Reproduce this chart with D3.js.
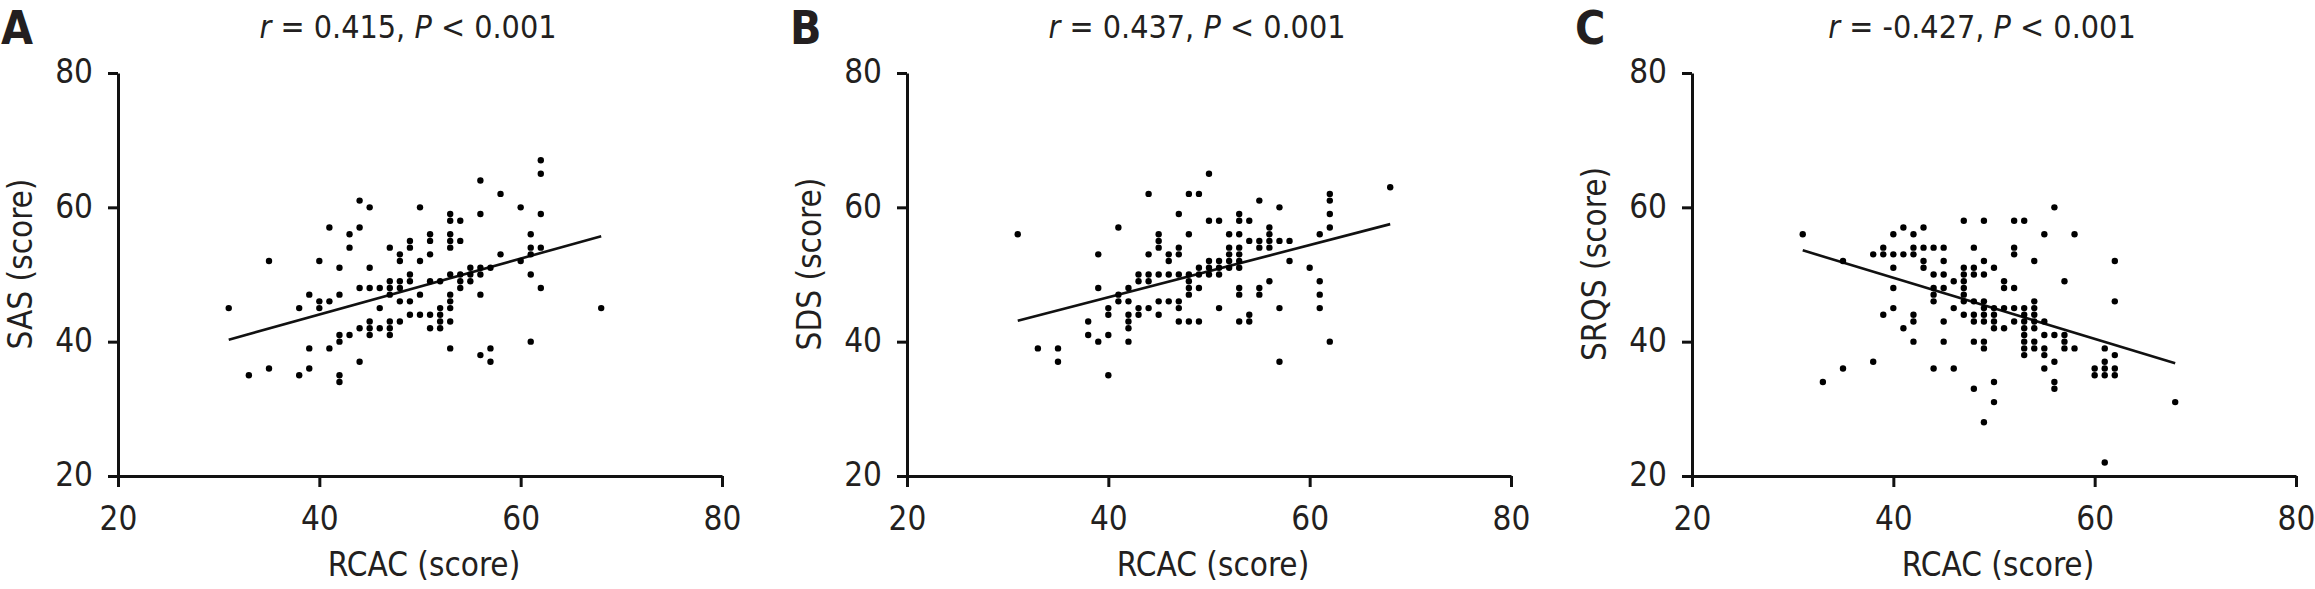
<!DOCTYPE html>
<html lang="en">
<head>
    <meta charset="UTF-8">
    <title>RCAC correlations</title>
    <script type="text/javascript" src="https://cdn.jsdelivr.net/npm/d3@7/dist/d3.min.js"></script>
    <style>
        body { margin: 0; background: #fff; }
        svg text {
            font-family: "DejaVu Sans Condensed", "DejaVu Sans", sans-serif;
            font-stretch: condensed;
            fill: #231f20;
        }
        .axis path,
        .axis line {
            fill: none;
            stroke: #111;
            stroke-width: 3;
        }
    </style>
</head>
<body>
<script type="text/javascript">
    // data: [RCAC score, outcome score]
    let pointsA = [
        [31,45],[33,35],[35,52],[35,36],[38,45],[38,35],[39,47],[39,39],[39,36],
        [40,52],[40,46],[40,45],[41,57],[41,46],[41,39],
        [42,51],[42,47],[42,41],[42,40],[42,35],[42,34],[43,56],[43,54],[43,41],
        [44,61],[44,57],[44,48],[44,42],[44,37],[45,60],[45,51],[45,48],[45,43],[45,42],[45,41],
        [46,48],[46,45],[46,42],[47,54],[47,49],[47,48],[47,47],[47,43],[47,42],[47,41],
        [48,53],[48,52],[48,49],[48,48],[48,46],[48,43],[49,55],[49,54],[49,50],[49,49],[49,46],[49,44],
        [50,60],[50,52],[50,47],[50,44],[51,56],[51,55],[51,53],[51,49],[51,44],[51,42],
        [52,49],[52,45],[52,44],[52,43],[52,42],
        [53,59],[53,58],[53,56],[53,55],[53,54],[53,50],[53,47],[53,46],[53,45],[53,43],[53,39],
        [54,58],[54,55],[54,50],[54,49],[54,48],[55,51],[55,50],[55,49],
        [56,64],[56,59],[56,51],[56,50],[56,47],[56,38],[57,51],[57,39],[57,37],[58,62],[58,53],
        [60,60],[60,52],[61,56],[61,54],[61,53],[61,50],[61,40],
        [62,67],[62,65],[62,59],[62,54],[62,48],[68,45]
    ];
    let pointsB = [
        [31,56],[33,39],[35,39],[35,37],[38,43],[38,41],[39,53],[39,48],[39,40],
        [40,45],[40,44],[40,41],[40,35],[41,57],[41,47],[41,46],
        [42,48],[42,46],[42,44],[42,43],[42,42],[42,40],[43,50],[43,49],[43,45],[43,44],
        [44,62],[44,53],[44,50],[44,49],[44,45],[45,56],[45,55],[45,54],[45,50],[45,46],[45,44],
        [46,53],[46,52],[46,50],[46,46],[47,59],[47,54],[47,53],[47,50],[47,46],[47,45],[47,43],
        [48,62],[48,56],[48,50],[48,49],[48,48],[48,47],[48,43],[49,62],[49,51],[49,50],[49,48],[49,43],
        [50,65],[50,58],[50,52],[50,51],[50,50],[51,58],[51,52],[51,51],[51,50],[51,45],
        [52,56],[52,54],[52,53],[52,52],[52,51],
        [53,59],[53,58],[53,56],[53,54],[53,53],[53,52],[53,51],[53,48],[53,47],[53,43],
        [54,58],[54,55],[54,44],[54,43],[55,61],[55,55],[55,54],[55,48],[55,47],
        [56,57],[56,56],[56,55],[56,54],[56,49],[57,60],[57,55],[57,45],[57,37],[58,55],[58,52],
        [60,51],[61,56],[61,49],[61,47],[61,45],[62,62],[62,61],[62,59],[62,57],[62,40],[68,63]
    ];
    let pointsC = [
        [31,56],[33,34],[35,52],[35,36],[38,53],[38,37],[39,54],[39,53],[39,44],
        [40,56],[40,53],[40,51],[40,48],[40,45],[41,57],[41,53],[41,42],
        [42,56],[42,54],[42,53],[42,44],[42,43],[42,40],[43,57],[43,54],[43,52],[43,51],
        [44,54],[44,50],[44,48],[44,47],[44,46],[44,36],[45,54],[45,52],[45,50],[45,48],[45,43],[45,40],
        [46,49],[46,45],[46,36],[47,58],[47,51],[47,50],[47,49],[47,48],[47,47],[47,46],[47,44],
        [48,54],[48,51],[48,50],[48,46],[48,44],[48,43],[48,40],[48,33],
        [49,58],[49,52],[49,50],[49,46],[49,45],[49,44],[49,43],[49,40],[49,39],[49,28],
        [50,51],[50,45],[50,44],[50,43],[50,42],[50,34],[50,31],[51,49],[51,48],[51,45],[51,42],
        [52,58],[52,54],[52,53],[52,48],[52,45],[52,43],
        [53,58],[53,45],[53,44],[53,43],[53,42],[53,41],[53,40],[53,39],[53,38],
        [54,52],[54,46],[54,45],[54,44],[54,43],[54,42],[54,40],[54,39],
        [55,56],[55,43],[55,41],[55,39],[55,38],[55,36],[56,60],[56,41],[56,37],[56,34],[56,33],
        [57,49],[57,41],[57,40],[57,39],[58,56],[58,39],[60,36],[60,35],
        [61,39],[61,37],[61,36],[61,35],[61,22],[62,52],[62,46],[62,38],[62,36],[62,35],[68,31]
    ];
    // fitted line end points as drawn in the figure
    let fitA = [[31, 40.3], [68, 55.7]];
    let fitB = [[31, 43.1], [68, 57.5]];
    let fitC = [[31, 53.6], [68, 36.8]];

    let letters = ['A', 'B', 'C'];
    let rValues = ['0.415', '0.437', '-0.427'];
    let pValues = ['< 0.001', '< 0.001', '< 0.001'];
    let yLabels = ['SAS (score)', 'SDS (score)', 'SRQS (score)'];
    let xLabel = 'RCAC (score)';
    let xTicks = [20, 40, 60, 80];
    let yTicks = [20, 40, 60, 80];

    let width = 2315;
    let height = 589;
    let panelLeft = [0, 789, 1574];
    let margin = {left: 118, top: 73};
    let plotW = 604;
    let plotH = 403;

    let svg = d3.select('body')
        .append('svg')
        .attr('width', width)
        .attr('height', height);

    let x = d3.scaleLinear().domain([20, 80]).range([0, plotW]);
    let y = d3.scaleLinear().domain([20, 80]).range([plotH, 0]);

    function drawPanel(i, points, fit) {
        let p = svg.append('g').attr('transform', 'translate(' + panelLeft[i] + ',0)');

        // panel letter
        p.append('text')
            .attr('x', 1)
            .attr('y', 44)
            .attr('font-size', 46)
            .attr('font-weight', 'bold')
            .text(letters[i]);

        let title = p.append('text')
            .attr('x', margin.left + 290)
            .attr('y', 38)
            .attr('text-anchor', 'middle')
            .attr('font-size', 32)
            .attr('xml:space', 'preserve');
        title.append('tspan').attr('font-style', 'italic').text('r');
        title.append('tspan').text(' = ' + rValues[i] + ', ');
        title.append('tspan').attr('font-style', 'italic').text('P');
        title.append('tspan').text(' ' + pValues[i]);

        p.append('text')
            .attr('transform', 'translate(32,264) rotate(-90)')
            .attr('text-anchor', 'middle')
            .attr('font-size', 33)
            .text(yLabels[i]);

        p.append('text')
            .attr('x', margin.left + 306)
            .attr('y', 576)
            .attr('text-anchor', 'middle')
            .attr('font-size', 33)
            .text(xLabel);

        let g = p.append('g').attr('transform', 'translate(' + margin.left + ',' + margin.top + ')');

        let xAxis = g.append('g')
            .attr('class', 'axis')
            .attr('transform', 'translate(0,' + plotH + ')')
            .call(d3.axisBottom(x).tickValues(xTicks).tickSize(11).tickSizeOuter(0).tickFormat(d3.format('d')));
        xAxis.selectAll('text')
            .attr('y', 54)
            .attr('dy', 0)
            .attr('font-size', 33)
            .attr('fill', '#231f20');

        let yAxis = g.append('g')
            .attr('class', 'axis')
            .call(d3.axisLeft(y).tickValues(yTicks).tickSize(10).tickPadding(15).tickSizeOuter(0).tickFormat(d3.format('d')));
        yAxis.selectAll('text')
            .attr('dy', '0.3em')
            .attr('font-size', 33)
            .attr('fill', '#231f20');
        g.selectAll('.axis').attr('font-family', null).attr('font-size', null);

        g.append('line')
            .attr('x1', x(fit[0][0]))
            .attr('y1', y(fit[0][1]))
            .attr('x2', x(fit[1][0]))
            .attr('y2', y(fit[1][1]))
            .attr('stroke', '#111')
            .attr('stroke-width', 2.6);

        g.selectAll('circle')
            .data(points)
            .enter()
            .append('circle')
            .attr('cx', function (d) { return x(d[0]); })
            .attr('cy', function (d) { return y(d[1]); })
            .attr('r', 3.2)
            .attr('fill', '#000');
    }

    drawPanel(0, pointsA, fitA);
    drawPanel(1, pointsB, fitB);
    drawPanel(2, pointsC, fitC);
</script>
</body>
</html>
